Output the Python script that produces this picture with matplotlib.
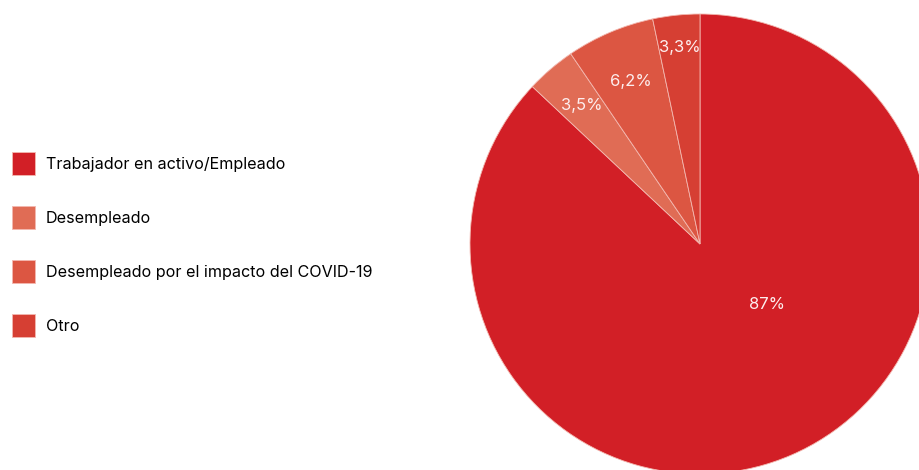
import numpy as np
import matplotlib
matplotlib.use('Agg')
from matplotlib import pyplot as plt

plt.rcParams['font.family'] = ['Inter', 'DejaVu Sans']

labels = ['Trabajador en activo/Empleado', 'Desempleado',
          'Desempleado por el impacto del COVID-19', 'Otro']
values = [87, 3.5, 6.2, 3.3]
pct_text = ['87%', '3,5%', '6,2%', '3,3%']
colors = ['#D21F26', '#E06C55', '#DC5642', '#D63F33']

W, H = 920, 470
fig = plt.figure(figsize=(W / 100, H / 100), dpi=100)

# pie centred at (700, 244) px, radius 230 px
cx, cy, r = 700, 244, 230
ax = fig.add_axes([(cx - r) / W, (H - cy - r) / H, 2 * r / W, 2 * r / H])
wedges, _ = ax.pie(values, colors=colors, startangle=90, counterclock=False,
                   radius=1, wedgeprops=dict(edgecolor='#F3B8B0', linewidth=0.6))
ax.set_xlim(-1, 1)
ax.set_ylim(-1, 1)
ax.axis('off')

dists = [0.39, 0.79, 0.77, 0.86]
for w, txt, d in zip(wedges, pct_text, dists):
    if txt == '87%':
        ang = np.deg2rad(-42)
    else:
        ang = np.deg2rad((w.theta1 + w.theta2) / 2)
    ax.text(d * np.cos(ang), d * np.sin(ang), txt, ha='center', va='center',
            color='#FDEEEE', fontsize=12)

fig.legend(wedges, labels, loc='upper left', bbox_to_anchor=(12 / W, 1 - 152 / H),
           frameon=False, fontsize=11.6, handlelength=1.45, handleheight=1.8,
           handletextpad=0.66, labelspacing=1.94, borderpad=0, borderaxespad=0)

fig.savefig('out.png', dpi=100)
